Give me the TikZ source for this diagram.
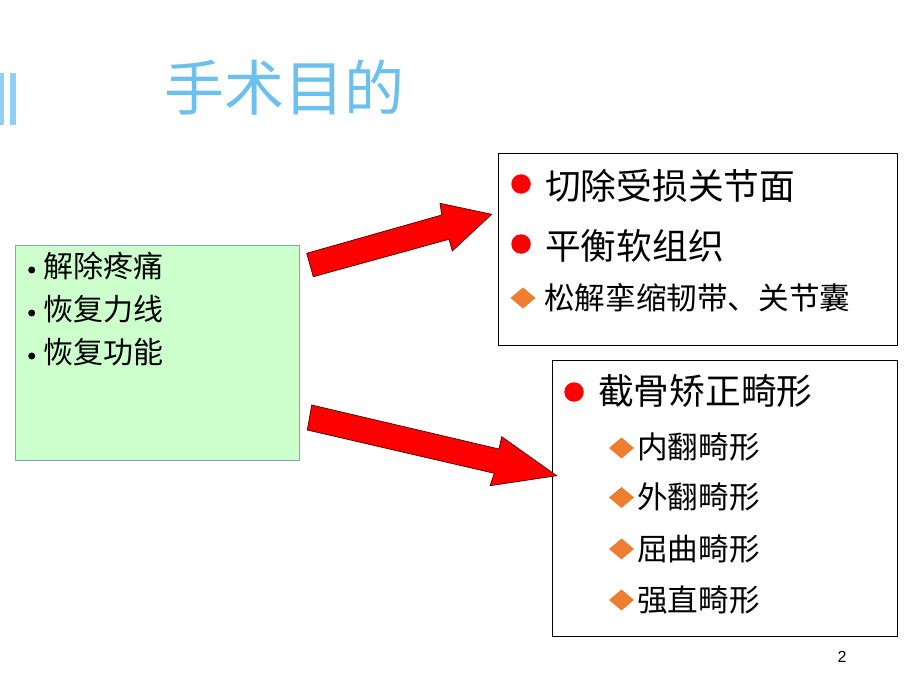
\documentclass[tikz,border=0pt]{standalone}
\usepackage{fontspec}
\setmainfont{Liberation Sans}
\newfontfamily\cjk{Noto Sans CJK SC}
\definecolor{titleblue}{HTML}{6CC0EE}
\definecolor{barblue}{HTML}{8ED1F4}
\definecolor{boxgreen}{HTML}{CCFFCC}
\definecolor{boxedge}{HTML}{7DA6C4}
\definecolor{diaorange}{HTML}{ED7D31}
\definecolor{arrowedge}{HTML}{500000}
\definecolor{dotred}{HTML}{FF0000}
\tikzset{
  panel/.style={draw=black, line width=0.9pt, anchor=north west, inner sep=0pt},
  bigtext/.style={anchor=west, inner sep=0pt, text=black, font=\cjk\fontsize{35.7}{40}\selectfont},
  midtext/.style={anchor=west, inner sep=0pt, text=black, font=\cjk\fontsize{30.6}{34}\selectfont},
  lefttext/.style={anchor=west, inner sep=0pt, text=black, font=\cjk\fontsize{30}{34}\selectfont},
  reddot/.style={circle, fill=dotred, inner sep=0pt, minimum size=19.5pt},
  smalldot/.style={circle, fill=black, inner sep=0pt, minimum size=7pt},
  blockarrow/.style={fill=dotred, draw=arrowedge, line width=0.7pt, line join=miter},
}
\newcommand{\diamondmark}[2]{\fill[diaorange] (#1-12.5,#2) -- (#1,#2-10.5) -- (#1+12.5,#2) -- (#1,#2+10.5) -- cycle;}
\begin{document}
\begin{tikzpicture}[x=1pt,y=-1pt]
\useasboundingbox (0,0) rectangle (920,690);
\fill[white] (0,0) rectangle (920,690);
% title bars
\fill[barblue] (0,73) rectangle (4,125);
\fill[barblue] (9.5,73) rectangle (15.5,125);
% title
\node[anchor=west, inner sep=0pt, text=titleblue, font=\cjk\fontsize{60}{66}\selectfont] (title) at (164,88) {手术目的};
% left green box
\node[draw=boxedge, fill=boxgreen, line width=0.9pt, anchor=north west, inner sep=0pt, minimum width=284pt, minimum height=215pt] (goals) at (15,245) {};
\node[smalldot] (gd1) at (31.7,270) {};
\node[lefttext] (g1) at (43,266) {解除疼痛};
\node[smalldot] (gd2) at (31.7,313) {};
\node[lefttext] (g2) at (43,309.5) {恢复力线};
\node[smalldot] (gd3) at (31.7,356) {};
\node[lefttext] (g3) at (43,352.5) {恢复功能};
% upper right box
\node[panel, minimum width=399pt, minimum height=192pt] (cut) at (498,153) {};
\node[reddot] (c1) at (521,184) {};
\node[bigtext] (t1) at (545,186) {切除受损关节面};
\node[reddot] (c2) at (521,244) {};
\node[bigtext] (t2) at (545,246) {平衡软组织};
\diamondmark{523}{298}
\node[midtext] (t3) at (544,298) {松解挛缩韧带、关节囊};
% lower right box
\node[panel, minimum width=345pt, minimum height=276pt] (osteo) at (552,360) {};
\node[reddot] (c3) at (574,392) {};
\node[bigtext] (t4) at (598,391) {截骨矫正畸形};
\diamondmark{621.5}{448}
\node[midtext] (t5) at (637,447) {内翻畸形};
\diamondmark{621.5}{497.5}
\node[midtext] (t6) at (637,497) {外翻畸形};
\diamondmark{621.5}{549}
\node[midtext] (t7) at (637,548.5) {屈曲畸形};
\diamondmark{621.5}{600}
\node[midtext] (t8) at (637,599.5) {强直畸形};
% block arrows
\draw[blockarrow] (306.7,253.3) -- (441.7,215) -- (440,203.3) -- (491.7,214.3) -- (452.3,251) -- (449,239.3) -- (313.3,276.7) -- cycle;
\draw[blockarrow] (311.7,405) -- (499,449) -- (501.7,436.7) -- (556.7,475.7) -- (490,485.7) -- (494.3,473.3) -- (307.3,430) -- cycle;
% page number
\node[inner sep=0pt, font=\fontsize{16}{18}\selectfont] (page) at (842,657) {2};
\end{tikzpicture}
\end{document}
